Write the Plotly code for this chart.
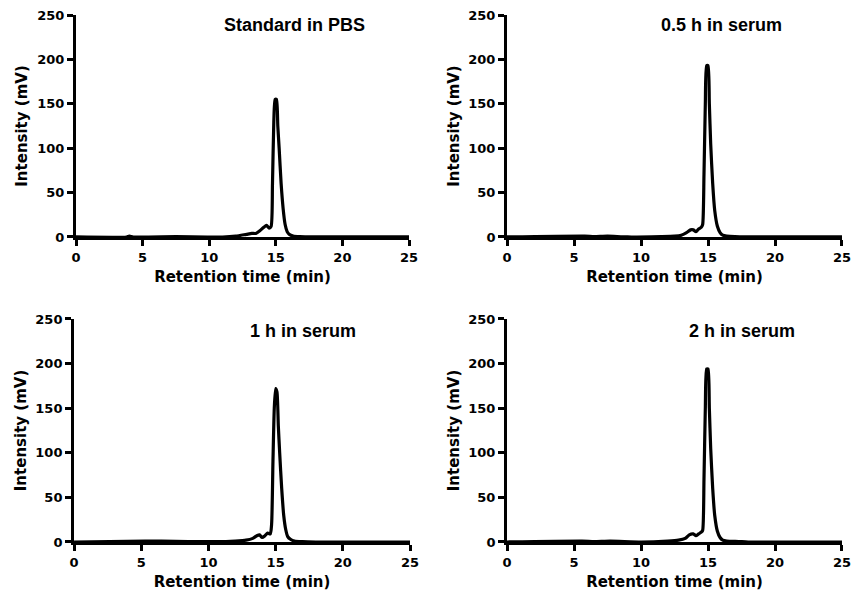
import plotly.graph_objects as go

# ---- data ----
panel_titles = ["Standard in PBS", "0.5 h in serum", "1 h in serum", "2 h in serum"]

t_pbs = [0, 3.8, 4.0, 4.3, 7.5, 11, 12, 12.8, 13.2, 13.5, 13.8, 14.1, 14.3, 14.5, 14.65,
         14.75, 14.85, 14.95, 15.05, 15.15, 15.25, 15.4, 15.55, 15.7, 15.85, 16.0, 16.3, 16.8, 18, 25]
i_pbs = [0, 0, 1, 0, 0.3, 0, 1, 3, 4, 4, 7, 11, 13, 10, 12,
         60, 130, 155, 155, 125, 100, 60, 32, 14, 6, 3, 1, 0.3, 0, 0]

t_05h = [0, 5.8, 6.5, 7.5, 9, 11.5, 12.5, 13.0, 13.4, 13.7, 13.9, 14.1, 14.3, 14.5, 14.6,
         14.7, 14.8, 14.9, 15.0, 15.1, 15.2, 15.35, 15.5, 15.7, 15.9, 16.1, 16.4, 17, 18, 25]
i_05h = [0, 1, 0.5, 1, 0, 0.5, 1, 2, 5, 8, 8, 6, 9, 11, 14,
         70, 150, 193, 193, 150, 105, 60, 30, 12, 5, 2, 1, 0.3, 0, 0]

t_1h = [0, 5.3, 6.5, 8.5, 11.3, 12, 12.8, 13.3, 13.6, 13.8, 14.0, 14.2, 14.4, 14.6, 14.7,
        14.8, 14.9, 15.0, 15.1, 15.2, 15.3, 15.45, 15.6, 15.75, 15.9, 16.1, 16.4, 17, 18, 25]
i_1h = [0, 1, 1, 0.5, 0.5, 1, 2, 4, 7, 8, 5, 7, 10, 9, 20,
        90, 150, 172, 168, 130, 100, 60, 30, 14, 6, 3, 1, 0.3, 0, 0]

t_2h = [0, 5.6, 6.5, 7.7, 10, 12, 12.8, 13.3, 13.6, 13.9, 14.1, 14.3, 14.5, 14.6,
        14.7, 14.8, 14.9, 15.0, 15.1, 15.2, 15.35, 15.5, 15.7, 15.9, 16.1, 16.4, 17.3, 18, 25]
i_2h = [0, 1, 0.5, 1, 0, 1, 2, 4, 8, 9, 7, 9, 11, 13,
        70, 150, 194, 194, 150, 105, 60, 30, 12, 5, 2, 1, 0.5, 0, 0]

x_ticks = [0, 5, 10, 15, 20, 25]
y_ticks = [0, 50, 100, 150, 200, 250]

series = [(t_pbs, i_pbs), (t_05h, i_05h), (t_1h, i_1h), (t_2h, i_2h)]

# ---- layout geometry ----
x_domains = [[0.0891, 0.4795], [0.5944, 0.9871], [0.0868, 0.4807], [0.5944, 0.9871]]
y_domains = [[0.6070, 0.9751], [0.6070, 0.9751], [0.1012, 0.4710], [0.1012, 0.4710]]
title_pos = [(16.4, 239), (16.0, 239), (17.0, 237), (17.5, 237)]

tick_font = dict(family="DejaVu Sans", size=13, color="black", weight="bold")
axis_title_font = dict(family="DejaVu Sans", size=15, color="black", weight="bold")

fig = go.Figure()
layout = dict(
    width=853, height=603,
    margin=dict(l=0, r=0, t=0, b=0, autoexpand=False),
    paper_bgcolor="white", plot_bgcolor="white",
    showlegend=False,
    annotations=[],
)

for k, ((tx, iy), title) in enumerate(zip(series, panel_titles)):
    n = "" if k == 0 else str(k + 1)
    fig.add_trace(go.Scatter(
        x=tx, y=iy, mode="lines",
        line=dict(color="black", width=3.2, shape="spline", smoothing=0.6),
        xaxis="x" + n, yaxis="y" + n, hoverinfo="skip", cliponaxis=False,
    ))
    layout["xaxis" + n] = dict(
        domain=x_domains[k], anchor="y" + n, range=[0, 25], automargin=False,
        tickvals=x_ticks, ticks="outside", ticklen=6, tickwidth=3, tickcolor="black",
        showline=True, linecolor="black", linewidth=3, showgrid=False, zeroline=False,
        tickfont=tick_font,
        title=dict(text="Retention time (min)", font=axis_title_font, standoff=8),
    )
    layout["yaxis" + n] = dict(
        domain=y_domains[k], anchor="x" + n, range=[0, 250], automargin=False,
        tickvals=y_ticks, ticks="outside", ticklen=6, tickwidth=3, tickcolor="black",
        showline=True, linecolor="black", linewidth=3, showgrid=False, zeroline=False,
        tickfont=tick_font,
        title=dict(text="Intensity (mV)", font=axis_title_font, standoff=6),
    )
    layout["annotations"].append(dict(
        x=title_pos[k][0], y=title_pos[k][1], xref="x" + n, yref="y" + n,
        text=title, showarrow=False,
        font=dict(family="Liberation Sans", size=18, color="black", weight="bold"),
    ))

fig.update_layout(**layout)
fig.write_html("out.html", config={"displayModeBar": False},
               post_script="document.body.style.margin='0';")
